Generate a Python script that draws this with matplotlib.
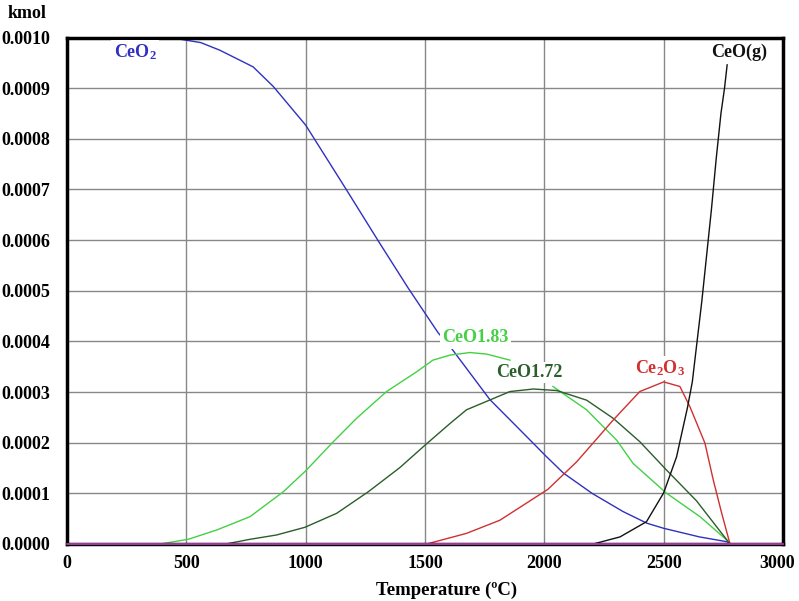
import numpy as np
import matplotlib
matplotlib.use("Agg")
import matplotlib.pyplot as plt
import matplotlib.transforms as mtransforms

plt.rcParams['font.family'] = ['Liberation Serif', 'DejaVu Serif']
plt.rcParams['font.weight'] = 'bold'
plt.rcParams['mathtext.fontset'] = 'custom'
plt.rcParams['mathtext.rm'] = 'Liberation Serif:bold'
plt.rcParams['mathtext.it'] = 'Liberation Serif:bold'
plt.rcParams['mathtext.bf'] = 'Liberation Serif:bold'

# ---- data (temperature in °C, amount in kmol) ----
ceo2_T = [0, 430, 560, 640, 780, 865, 1000, 1170, 1310, 1430, 1555, 1605, 1772, 1886,
          2010, 2080, 2200, 2330, 2430, 2500, 2650, 2765, 2780]
ceo2_y = [0.001, 0.001, 0.00099, 0.000975, 0.000942, 0.000903, 0.000827, 0.0007, 0.000594,
          0.000505, 0.000417, 0.00039, 0.000285, 0.000231, 0.000172, 0.00014, 0.0001,
          0.000064, 0.000041, 0.000031, 0.000014, 0.0000045, 0.0]

ceo183_T = [390, 508, 627, 767, 906, 997, 1116, 1213, 1339, 1465, 1533, 1605, 1688,
            1758, 1856, np.nan, 2036, 2177, 2261, 2303, 2372, 2510, 2652, 2764, 2780]
ceo183_y = [0.0, 0.0000093, 0.0000276, 0.000054, 0.000103, 0.000143, 0.000202, 0.000248,
            0.000301, 0.00034, 0.000363, 0.000373, 0.000378, 0.000375, 0.000363, np.nan,
            0.000311, 0.000265, 0.000225, 0.000205, 0.000159, 0.000101, 0.000054,
            0.000008, 0.0]

ceo172_T = [665, 767, 878, 997, 1130, 1262, 1395, 1507, 1605, 1674, 1856, 1954, 2052,
            2177, 2289, 2400, 2512, 2638, 2778]
ceo172_y = [0.0, 0.0000093, 0.0000178, 0.000033, 0.0000606, 0.000103, 0.000151, 0.000198,
            0.000238, 0.000265, 0.000301, 0.000306, 0.000303, 0.000284, 0.000248,
            0.000202, 0.000146, 0.000085, 0.0]

ce2o3_T = [1507, 1674, 1814, 2015, 2135, 2289, 2400, 2500, 2568, 2610, 2673, 2708, 2743, 2778]
ce2o3_y = [0.0, 0.000021, 0.000047, 0.000108, 0.000162, 0.000245, 0.000301, 0.00032,
           0.000311, 0.000271, 0.000199, 0.000126, 0.000061, 0.0]

ceog_T = [2205, 2317, 2428, 2500, 2554, 2568, 2600, 2620, 2640, 2660, 2680, 2700,
          2720, 2740, 2755, 2766]
ceog_y = [0.0, 0.000014, 0.000044, 0.000101, 0.000172, 0.000202, 0.00027, 0.00032,
          0.0004, 0.00048, 0.00057, 0.00066, 0.00076, 0.00085, 0.0009, 0.000946]

base_T = [0, 3000]
base_y = [0.0, 0.0]

x_ticks = [0, 500, 1000, 1500, 2000, 2500, 3000]
y_ticks = [0.0, 0.0001, 0.0002, 0.0003, 0.0004, 0.0005, 0.0006, 0.0007, 0.0008, 0.0009, 0.0010]

# ---- figure ----
fig = plt.figure(figsize=(7.99, 6.01), dpi=100)
ax = fig.add_axes([67/799, 1-544/601, (783-67)/799, (544-37.5)/601])

ax.plot(ceo2_T, ceo2_y, color='#3030c0', lw=1.0)
ax.plot(ceo183_T, ceo183_y, color='#44d044', lw=1.0)
ax.plot(ceo172_T, ceo172_y, color='#2a5e2a', lw=1.0)
ax.plot(ce2o3_T, ce2o3_y, color='#d03030', lw=1.0)
ax.plot(ceog_T, ceog_y, color='#111111', lw=1.0)
ax.plot(base_T, base_y, color='#c040c0', lw=1.2, clip_on=False, zorder=4)

ax.set_xlim(0, 3000)
ax.set_ylim(0, 0.001)
ax.set_xticks(x_ticks)
ax.set_yticks(y_ticks)
ax.set_xticklabels([str(t) for t in x_ticks])
ax.set_yticklabels(['%.4f' % v for v in y_ticks])
ax.tick_params(axis='both', length=0, labelsize=13)
ax.tick_params(axis='y', pad=12)
ax.tick_params(axis='x', pad=8)
ax.grid(True, color='#888888', lw=1.0)
ax.set_axisbelow(True)
for s in ax.spines.values():
    s.set_linewidth(2.5)
    s.set_color('black')

# keep the last x tick label inside the figure
last = ax.get_xticklabels()[-1]
last.set_transform(last.get_transform() +
                   mtransforms.ScaledTranslation(-6/100, 0, fig.dpi_scale_trans))

ax.set_xlabel('Temperature (ºC)', fontsize=13.5, fontweight='bold')
ax.xaxis.set_label_coords(0.53, -0.075)
fig.text(8/799, 1-14/601, 'kmol', fontsize=13, fontweight='bold', ha='left', va='center')

bb = dict(facecolor='white', edgecolor='none', pad=1.5)
ax.text(285, 0.000971, r'CeO$_2$', color='#3030c0', fontsize=13, ha='center', va='center', bbox=bb)
ax.text(1712, 0.000407, 'CeO1.83', color='#44d044', fontsize=13, ha='center', va='center', bbox=bb)
ax.text(1936, 0.000338, 'CeO1.72', color='#2a5e2a', fontsize=13, ha='center', va='center', bbox=bb)
ax.text(2484, 0.000347, r'Ce$_2$O$_3$', color='#d03030', fontsize=13, ha='center', va='center', bbox=bb)
ax.text(2816, 0.00097, 'CeO(g)', color='#111111', fontsize=13, ha='center', va='center', bbox=bb)

fig.savefig('out.png', dpi=100)
